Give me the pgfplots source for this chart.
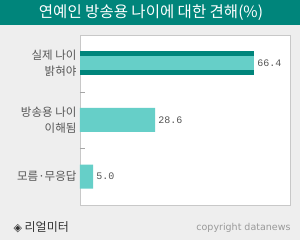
\documentclass[border=0pt]{standalone}
\usepackage{pgfplots}
\pgfplotsset{compat=1.18}
\usepackage{fontspec}
\setmainfont{Noto Sans CJK KR}
\newfontfamily\monof{Liberation Mono}
\newfontfamily\copyf{DejaVu Sans}
\definecolor{darkteal}{HTML}{00857B}
\definecolor{lightteal}{HTML}{66CFC8}
\definecolor{bggray}{HTML}{EEEEEE}
\definecolor{framegray}{HTML}{C8C8C8}
\definecolor{labgray}{HTML}{555555}
\begin{document}
\begin{tikzpicture}[x=1pt,y=1pt]
\useasboundingbox (0,0) rectangle (300,240);
\fill[bggray] (0,0) rectangle (300,240);
\fill[darkteal] (0,215) rectangle (300,240);
\node[white, font=\fontsize{15.5}{18}\selectfont] at (151,227.5) {연예인 방송용 나이에 대한 견해(\%)};
\begin{axis}[at={(80pt,35pt)}, anchor=south west, scale only axis,
  width=210pt, height=170pt,
  xbar, xmin=0, xmax=80, ymin=-0.5, ymax=2.5,
  axis background/.style={fill=white},
  axis line style={framegray},
  xtick=\empty,
  ytick={0,1,2},
  yticklabels={모름·무응답, {방송용 나이\\이해됨}, {실제 나이\\밝혀야}},
  yticklabel style={align=right, text=labgray, font=\fontsize{11.5}{16}\selectfont},
  ytick pos=left,
  major tick length=0pt,
  extra y ticks={0.5,1.5}, extra y tick labels={},
  extra y tick style={major tick length=5pt, tick align=inside, tick style={draw=gray!70}},
  point meta=explicit symbolic,
  nodes near coords style={font=\monof\fontsize{10}{12}\selectfont, text=labgray, anchor=west, inner sep=0pt, xshift=3pt},
]
\addplot[fill=darkteal, draw=none, bar width=24pt, bar shift=0pt] coordinates {(66.4,2)};
\addplot[fill=lightteal, draw=none, bar width=14pt, bar shift=0pt, nodes near coords] coordinates {(66.4,2) [66.4]};
\addplot[fill=lightteal, draw=none, bar width=24pt, bar shift=0pt, nodes near coords] coordinates {(28.6,1) [28.6] (5.0,0) [5.0]};
\end{axis}
\node[anchor=west, text=black!80, font=\fontsize{12}{14}\selectfont] at (10,13) {{\copyf\fontsize{11}{14}\selectfont ◈} 리얼미터};
\node[anchor=east, text=black!40, font=\copyf\fontsize{9.5}{11}\selectfont] at (294,12) {copyright datanews};
\end{tikzpicture}
\end{document}
